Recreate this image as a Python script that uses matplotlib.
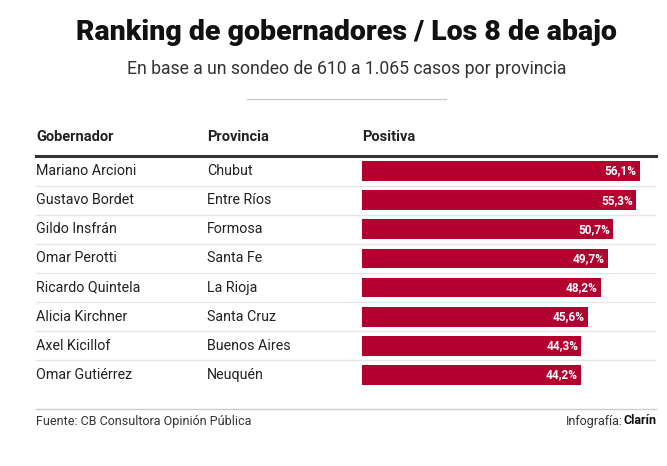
import matplotlib
matplotlib.use("Agg")
import matplotlib.pyplot as plt
from matplotlib import font_manager

names = ["Mariano Arcioni", "Gustavo Bordet", "Gildo Insfrán", "Omar Perotti",
         "Ricardo Quintela", "Alicia Kirchner", "Axel Kicillof", "Omar Gutiérrez"]
provinces = ["Chubut", "Entre Ríos", "Formosa", "Santa Fe",
             "La Rioja", "Santa Cruz", "Buenos Aires", "Neuquén"]
positiva = [56.1, 55.3, 50.7, 49.7, 48.2, 45.6, 44.3, 44.2]
headers = ["Gobernador", "Provincia", "Positiva"]

title = "Ranking de gobernadores / Los 8 de abajo"
subtitle = "En base a un sondeo de 610 a 1.065 casos por provincia"
source = "Fuente: CB Consultora Opinión Pública"

avail = {f.name for f in font_manager.fontManager.ttflist}
narrow = "Liberation Sans Narrow" if "Liberation Sans Narrow" in avail else "Roboto"
FAM = [narrow, "DejaVu Sans"]
plt.rcParams["font.family"] = FAM

W, H = 667, 466
fig = plt.figure(figsize=(W / 100, H / 100), dpi=100)

def fx(px):
    return px / W

def fy(py):
    return 1 - py / H

BAR = "#B4002F"
TXT = "#222222"

fig.text(fx(346), fy(32), title, ha="center", va="center", fontsize=20.5,
         fontweight="black", color="#111111")
fig.text(fx(347), fy(69), subtitle, ha="center", va="center", fontsize=12.7,
         color="#333333")
fig.add_artist(plt.Line2D([fx(247), fx(446)], [fy(99), fy(99)], color="#cccccc", lw=1))

row_top, row_bot = 156.4, 389.6
n = len(names)
ax = fig.add_axes([fx(36), fy(row_bot), fx(656) - fx(36), fy(row_top) - fy(row_bot)])
ax.set_xlim(36, 656)
ax.set_ylim(n - 0.5, -0.5)
ax.axis("off")

bx = fig.add_axes([fx(362), fy(row_bot), fx(656) - fx(362), fy(row_top) - fy(row_bot)], sharey=ax)
bx.set_xlim(0, 59.4)
bx.axis("off")

# header
for xp, h in zip([36, 207, 362], headers):
    fig.text(fx(xp), fy(137), h, ha="left", va="center", fontsize=10.5,
             fontweight="bold", color=TXT)

ax.axhline(-0.5, color="#333333", lw=2.2, clip_on=False)
for i in range(1, n):
    ax.axhline(i - 0.5, color="#e6e6e6", lw=1)

for i, (nm, pv) in enumerate(zip(names, provinces)):
    ax.text(36, i, nm, ha="left", va="center", fontsize=10.3, color=TXT)
    ax.text(207, i, pv, ha="left", va="center", fontsize=10.3, color=TXT)

bars = bx.barh(range(n), positiva, height=0.68, color=BAR)
for b, v in zip(bars, positiva):
    bx.text(b.get_width() - 0.6, b.get_y() + b.get_height() / 2,
            f"{v:.1f}%".replace(".", ","), ha="right", va="center",
            fontsize=8.6, fontweight="bold", color="white")

fig.add_artist(plt.Line2D([fx(36), fx(656)], [fy(409), fy(409)], color="#cccccc", lw=1))
fig.text(fx(36), fy(421), source, ha="left", va="center", fontsize=9, color="#333333")
t2 = fig.text(fx(656), fy(421), "Clarín", ha="right", va="center", fontsize=9,
              fontweight="bold", color="#111111")
fig.canvas.draw()
bb = t2.get_window_extent()
fig.text((bb.x0 - 0.5) / W, fy(421), "Infografía:", ha="right", va="center", fontsize=9,
         color="#333333")

fig.savefig("out.png", dpi=100)
